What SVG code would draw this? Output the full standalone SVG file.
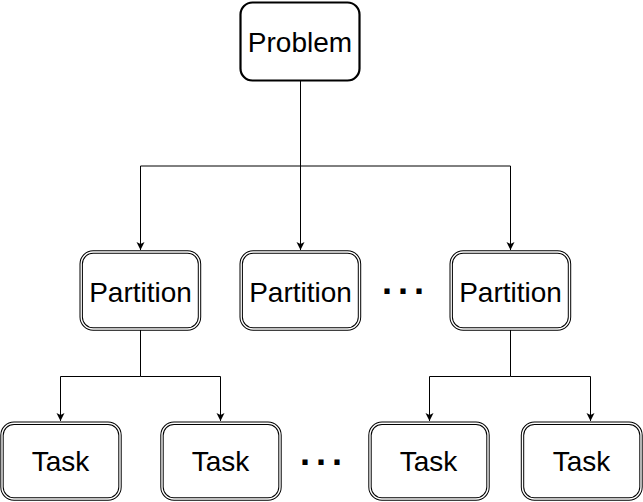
<svg xmlns="http://www.w3.org/2000/svg" width="643" height="502" viewBox="0 0 643 502">
<style>
.lbl{font-family:"Liberation Sans",Arial,sans-serif;font-size:28px;fill:#000;text-anchor:middle}
.dots{font-family:"Liberation Sans",Arial,sans-serif;font-size:36px;font-weight:bold;fill:#000;letter-spacing:6px}
.dbo{fill:#fff;stroke:#000;stroke-width:3.4}
.dbi{fill:none;stroke:#fff;stroke-width:1.4}
.edge{fill:none;stroke:#000;stroke-width:1;marker-end:url(#arr)}
</style>
<defs>
<marker id="arr" markerUnits="userSpaceOnUse" markerWidth="10" markerHeight="10" refX="8" refY="4" orient="auto">
<path d="M0,0 L8,4 L0,8 L2,4 z" fill="#000"/>
</marker>
</defs>
<rect width="643" height="502" fill="#fff"/>
<g id="connectors">
<path class="edge" d="M300.5,81 V166 H140.5 V250"/>
<path class="edge" d="M300.5,166 V250"/>
<path class="edge" d="M300.5,166 H510.5 V250"/>
<path class="edge" d="M140.5,330 V376.5 H60.5 V421"/>
<path class="edge" d="M140.5,376.5 H220.5 V421"/>
<path class="edge" d="M510.5,330 V376.5 H429.5 V421"/>
<path class="edge" d="M510.5,376.5 H590.5 V421"/>
</g>
<g id="problem">
<rect x="240.5" y="2.5" width="119" height="78" rx="12" fill="#fff" stroke="#000" stroke-width="2.2"/>
<text class="lbl" x="300" y="51.5">Problem</text>
</g>
<g id="partition1">
<rect class="dbo" x="81.2" y="252" width="118.3" height="77" rx="12"/>
<rect class="dbi" x="81.2" y="252" width="118.3" height="77" rx="12"/>
<text class="lbl" x="140.5" y="302">Partition</text>
</g>
<g id="partition2">
<rect class="dbo" x="241.2" y="252" width="118.3" height="77" rx="12"/>
<rect class="dbi" x="241.2" y="252" width="118.3" height="77" rx="12"/>
<text class="lbl" x="300.5" y="302">Partition</text>
</g>
<g id="partition3">
<rect class="dbo" x="451.2" y="252" width="118.3" height="77" rx="12"/>
<rect class="dbi" x="451.2" y="252" width="118.3" height="77" rx="12"/>
<text class="lbl" x="510.5" y="302">Partition</text>
</g>
<g id="dots1">
<text class="dots" x="382" y="293.5">...</text>
</g>
<g id="task1">
<rect class="dbo" x="2" y="423.3" width="118" height="75.7" rx="12"/>
<rect class="dbi" x="2" y="423.3" width="118" height="75.7" rx="12"/>
<text class="lbl" x="60.5" y="471">Task</text>
</g>
<g id="task2">
<rect class="dbo" x="162" y="423.3" width="118" height="75.7" rx="12"/>
<rect class="dbi" x="162" y="423.3" width="118" height="75.7" rx="12"/>
<text class="lbl" x="220.5" y="471">Task</text>
</g>
<g id="dots2">
<text class="dots" x="300" y="465">...</text>
</g>
<g id="task3">
<rect class="dbo" x="370" y="423.3" width="118" height="75.7" rx="12"/>
<rect class="dbi" x="370" y="423.3" width="118" height="75.7" rx="12"/>
<text class="lbl" x="428.5" y="471">Task</text>
</g>
<g id="task4">
<rect class="dbo" x="522.5" y="423.3" width="118.5" height="75.7" rx="12"/>
<rect class="dbi" x="522.5" y="423.3" width="118.5" height="75.7" rx="12"/>
<text class="lbl" x="581.5" y="471">Task</text>
</g>
</svg>
